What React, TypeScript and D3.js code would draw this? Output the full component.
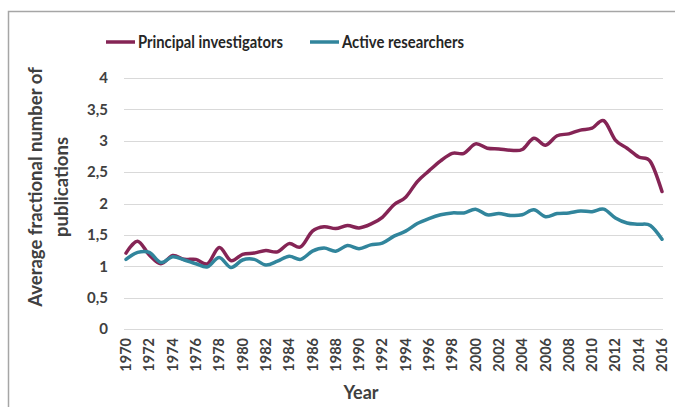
import React, { useEffect, useRef } from 'react';
import * as d3 from 'd3';

const years = d3.range(1970, 2017);

// Average fractional number of publications, principal investigators
const principalValues = [
    1.21, 1.40, 1.18, 1.04, 1.17, 1.11, 1.11, 1.04, 1.30, 1.09,
    1.19, 1.21, 1.25, 1.23, 1.36, 1.31, 1.56, 1.63, 1.60, 1.65,
    1.61, 1.67, 1.78, 1.98, 2.10, 2.35, 2.52, 2.68, 2.80, 2.80,
    2.95, 2.88, 2.87, 2.85, 2.86, 3.04, 2.93, 3.08, 3.11, 3.17,
    3.20, 3.32, 3.01, 2.88, 2.74, 2.67, 2.19,
];

// Average fractional number of publications, active researchers
const activeValues = [
    1.11, 1.22, 1.22, 1.06, 1.15, 1.10, 1.04, 0.99, 1.14, 0.98,
    1.10, 1.11, 1.02, 1.08, 1.16, 1.11, 1.24, 1.29, 1.24, 1.33,
    1.28, 1.34, 1.37, 1.48, 1.56, 1.68, 1.76, 1.82, 1.85, 1.85,
    1.91, 1.82, 1.84, 1.81, 1.82, 1.90, 1.79, 1.84, 1.85, 1.88,
    1.87, 1.91, 1.77, 1.69, 1.67, 1.65, 1.43,
];

const yTicks = [0, 0.5, 1, 1.5, 2, 2.5, 3, 3.5, 4];
const xTickYears = years.filter(y => (y - 1970) % 2 === 0);

const series = [
    { name: "Principal investigators", values: principalValues, color: "#852455" },
    { name: "Active researchers", values: activeValues, color: "#31859c" },
];

const FONT = "Lato, 'Open Sans', sans-serif";

const App = () => {
    const svgRef = useRef<SVGSVGElement>(null);

    useEffect(() => {
        const svg = d3.select(svgRef.current);
        svg.selectAll("*").remove();

        const width = 675;
        const height = 407;

        svg.attr("width", width).attr("height", height)
            .style("font-family", FONT);

        // chart frame (only top and left edges fall inside the picture)
        svg.append("path")
            .attr("d", `M8.5,${height} V11.5 H${width}`)
            .attr("fill", "none")
            .attr("stroke", "#a6a6a6")
            .attr("stroke-width", 1.5);

        const xScale = d3.scaleLinear()
            .domain([1970, 2016])
            .range([126, 662]);

        const yScale = d3.scaleLinear()
            .domain([0, 4])
            .range([329, 78]);

        // gridlines
        svg.append("g")
            .selectAll("line")
            .data(yTicks)
            .enter()
            .append("line")
            .attr("x1", 124)
            .attr("x2", 663)
            .attr("y1", d => Math.round(yScale(d)) + 0.5)
            .attr("y2", d => Math.round(yScale(d)) + 0.5)
            .attr("stroke", "#d9d9d9")
            .attr("stroke-width", 1);

        // y tick labels
        svg.append("g")
            .selectAll("text")
            .data(yTicks)
            .enter()
            .append("text")
            .attr("x", 108)
            .attr("y", d => yScale(d))
            .attr("dy", "0.35em")
            .attr("text-anchor", "end")
            .attr("font-size", 15)
            .attr("font-weight", "bold")
            .attr("fill", "#404040")
            .text(d => d3.format("")(d).replace(".", ","));

        // x tick labels, rotated
        svg.append("g")
            .selectAll("text")
            .data(xTickYears)
            .enter()
            .append("text")
            .attr("transform", d => `translate(${xScale(d)},338) rotate(-90)`)
            .attr("dy", "0.35em")
            .attr("text-anchor", "end")
            .attr("font-size", 14.5)
            .attr("font-weight", "bold")
            .attr("fill", "#404040")
            .text(d => d);

        // axis titles
        svg.append("text")
            .attr("x", 361)
            .attr("y", 399)
            .attr("text-anchor", "middle")
            .attr("font-size", 18)
            .attr("font-weight", "bold")
            .attr("fill", "#404040")
            .text("Year");

        const yTitle = svg.append("text")
            .attr("transform", "translate(36,187) rotate(-90)")
            .attr("text-anchor", "middle")
            .attr("font-size", 18.5)
            .attr("font-weight", "bold")
            .attr("fill", "#404040");
        yTitle.append("tspan").attr("x", 0).attr("dy", "0.35em").text("Average fractional number of");
        yTitle.append("tspan").attr("x", 0).attr("dy", "1.4em").text("publications");

        // lines
        const line = d3.line<number>()
            .x((_, i) => xScale(years[i]))
            .y(d => yScale(d))
            .curve(d3.curveCatmullRom.alpha(0));

        svg.append("g")
            .selectAll("path")
            .data(series)
            .enter()
            .append("path")
            .attr("d", d => line(d.values))
            .attr("fill", "none")
            .attr("stroke", d => d.color)
            .attr("stroke-width", 3.5)
            .attr("stroke-linejoin", "round")
            .attr("stroke-linecap", "round");

        // legend
        const legendX = [106, 310];
        const legendTextWidth = [145, 122];
        const legend = svg.append("g")
            .selectAll("g")
            .data(series)
            .enter()
            .append("g")
            .attr("transform", (_, i) => `translate(${legendX[i]},42)`);

        legend.append("line")
            .attr("x1", 0)
            .attr("x2", 29)
            .attr("stroke", d => d.color)
            .attr("stroke-width", 3.5);

        legend.append("text")
            .attr("x", 32)
            .attr("dy", "0.35em")
            .attr("font-size", 16.5)
            .attr("font-weight", "bold")
            .attr("fill", "#262626")
            .attr("textLength", (_, i) => legendTextWidth[i])
            .attr("lengthAdjust", "spacingAndGlyphs")
            .text(d => d.name);
    }, []);

    return (
        <svg ref={svgRef} style={{ position: "absolute", left: 0, top: 0 }}></svg>
    );
};

export default App;
